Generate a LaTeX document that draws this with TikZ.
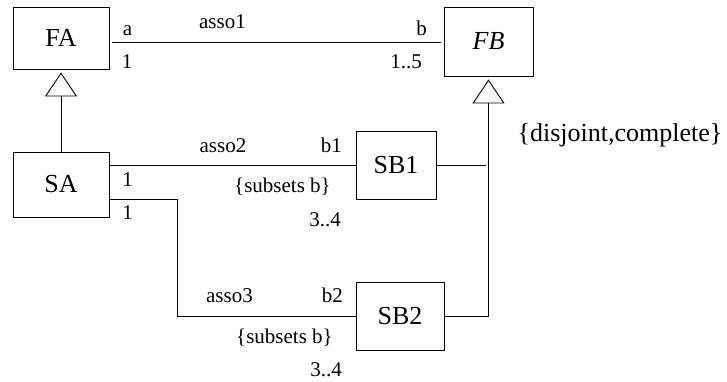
\documentclass[tikz,border=0pt]{standalone}
\usepackage{fontspec}
\setmainfont{Liberation Serif}
\usetikzlibrary{arrows.meta}
\begin{document}
\begin{tikzpicture}[x=1pt,y=-1pt,
  classbox/.style={draw, line width=0.9pt, inner sep=0pt, font=\fontsize{26}{30}\selectfont},
  lbl/.style={inner sep=0pt, anchor=base, font=\fontsize{21}{25}\selectfont},
  lblr/.style={lbl, anchor=base east},
  conn/.style={line width=0.9pt},
  gen/.style={line width=0.9pt, -{Triangle[open, length=24pt, width=32pt, line width=0.9pt]}, shorten >=3pt}
]
\useasboundingbox (0,0) rectangle (727,381);
\node[classbox, minimum width=96pt, minimum height=62pt] (FA) at (61,38) {FA};
\node[classbox, minimum width=89pt, minimum height=69pt] (FB) at (488.5,41.5) {\itshape FB};
\node[classbox, minimum width=96pt, minimum height=65pt] (SA) at (61,184.5) {SA};
\node[classbox, minimum width=80pt, minimum height=68pt] (SB1) at (396,165) {SB1};
\node[classbox, minimum width=88pt, minimum height=68pt] (SB2) at (400,316) {SB2};

% associations
\draw[conn, shorten <=3pt, shorten >=3pt] (FA.east |- 0,42) coordinate (fa1) -- (fa1 -| FB.west);
\draw[conn] (SA.east |- SB1.west) -- (SB1.west);
\draw[conn] ([yshift=-14.5pt]SA.east) -- ++(68pt,0) |- (SB2.west);

% generalizations
\draw[gen] (SA.north) -- (FA.south);
\coordinate (j1) at (486,165);
\draw[conn] (SB1.east) -- (j1);
\draw[gen] (SB2.east) -| (FB.south);

% labels
\node[lbl] (la) at (127.5,35) {a};
\node[lbl] (lasso1) at (222.5,28) {asso1};
\node[lbl] (lm1) at (127,68) {1};
\node[lblr] (lb) at (427,35) {b};
\node[lblr] (lm15) at (422,68) {1..5};

\node[lbl] (lasso2) at (223,152) {asso2};
\node[lblr] (lb1) at (342,152) {b1};
\node[lbl] (lm2) at (127.5,186) {1};
\node[lbl] (ls1) at (282.5,192) {\{subsets b\}};
\node[lblr] (lm34a) at (341,226) {3..4};
\node[lbl] (lm3) at (127.5,219) {1};

\node[lbl] (lasso3) at (229.5,302) {asso3};
\node[lblr] (lb2) at (343,302) {b2};
\node[lbl] (ls2) at (284.5,343) {\{subsets b\}};
\node[lblr] (lm34b) at (342,376) {3..4};

\node[inner sep=0pt, anchor=base, font=\fontsize{26}{30}\selectfont] (ldc) at (620,141) {\{disjoint,complete\}};
\end{tikzpicture}
\end{document}
